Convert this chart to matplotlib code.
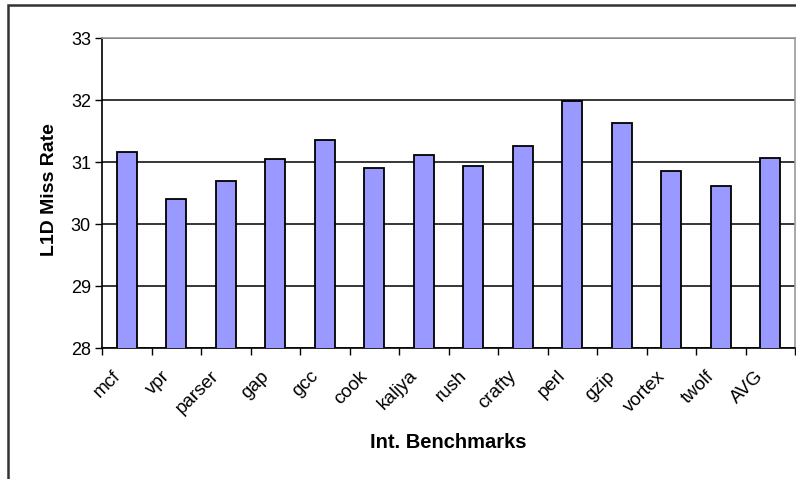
import numpy as np
import matplotlib.pyplot as plt
import matplotlib.transforms as mtransforms
from matplotlib.patches import Rectangle

# L1 data cache miss rate per integer benchmark
benchmarks = ['mcf', 'vpr', 'parser', 'gap', 'gcc', 'cook', 'kaljya', 'rush',
              'crafty', 'perl', 'gzip', 'vortex', 'twolf', 'AVG']
miss_rate = [31.16, 30.40, 30.69, 31.05, 31.35, 30.90, 31.11, 30.94,
             31.26, 31.98, 31.63, 30.85, 30.61, 31.06]

plt.rcParams['font.family'] = ['Liberation Sans', 'DejaVu Sans']

fig = plt.figure(figsize=(7.96, 4.79), dpi=100)
ax = fig.add_axes([102 / 796, 131 / 479, 693 / 796, 310 / 479])

x = np.arange(len(benchmarks))
ax.bar(x, miss_rate, width=0.4, color='#9999ff',
       edgecolor='black', linewidth=1.3, zorder=3)

ax.set_ylim(28, 33)
ax.set_xlim(-0.5, len(benchmarks) - 0.5)
ax.set_yticks(np.arange(28, 34, 1))
ax.yaxis.grid(True, color='black', linewidth=1.1, zorder=0)
ax.tick_params(axis='y', direction='out', length=5, width=1, labelsize=13, pad=3)

# category labels at the centres, tick marks between categories
ax.set_xticks(x)
ax.set_xticklabels(benchmarks, rotation=45, ha='right', va='center',
                   rotation_mode='anchor', fontsize=13.5)
ax.tick_params(axis='x', which='major', length=0, pad=14)
ax.set_xticks(np.arange(-0.5, len(benchmarks)), minor=True)
ax.tick_params(axis='x', which='minor', direction='out', length=5, width=1)
shift = mtransforms.ScaledTranslation(-9 / 100, -6 / 100, fig.dpi_scale_trans)
for lbl in ax.get_xticklabels():
    lbl.set_transform(lbl.get_transform() + shift)

for side in ['top', 'right']:
    ax.spines[side].set_color('#999999')
    ax.spines[side].set_linewidth(1.2)
for side in ['left', 'bottom']:
    ax.spines[side].set_color('black')
    ax.spines[side].set_linewidth(1.2)

ax.set_ylabel('L1D Miss Rate', fontsize=14, fontweight='bold')
ax.yaxis.set_label_coords(-0.063, 0.51)
fig.text(448 / 796, 1 - 443 / 479, 'Int. Benchmarks', fontsize=14.5,
         fontweight='bold', ha='center', va='center')

# chart border
fig.patches.append(Rectangle((8 / 796, -0.1), 1.0, 1 - 5 / 479 + 0.1,
                             transform=fig.transFigure, fill=False,
                             edgecolor='#333333', linewidth=1.8))

fig.savefig('out.png', dpi=100)
